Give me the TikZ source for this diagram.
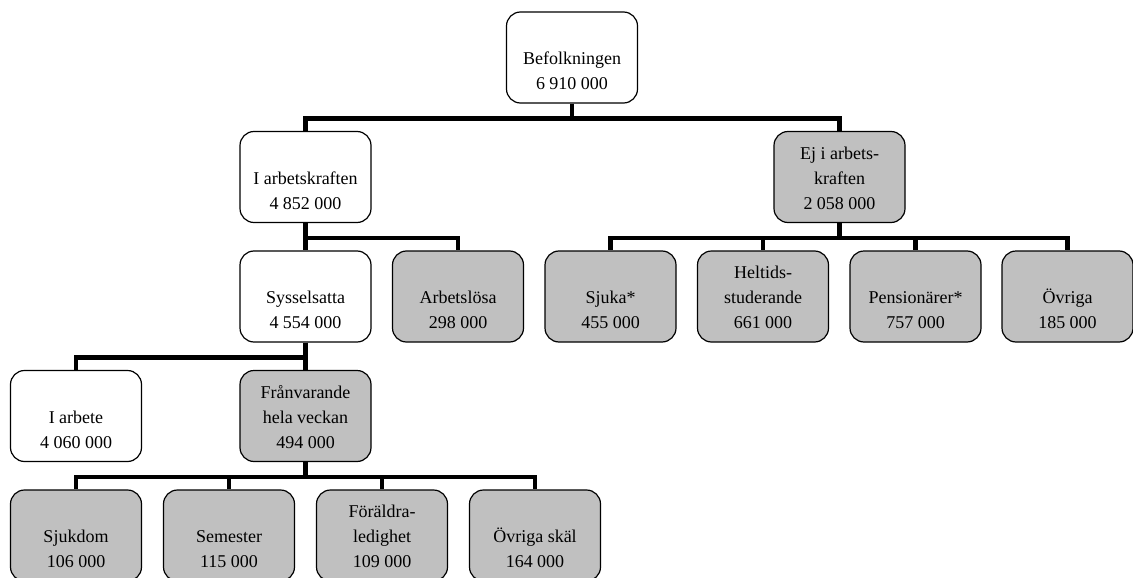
\documentclass[tikz,border=0pt]{standalone}
\usepackage{fontspec}
\setmainfont{Liberation Serif}
\definecolor{ljusgra}{RGB}{192,192,192}
\newcommand{\forsta}{\rule{0pt}{15pt}}

\begin{document}
\begin{tikzpicture}[x=1pt,y=-1pt,
    ruta/.style={draw, line width=1.2pt, rounded corners=14pt, fill=white,
        minimum width=131pt, minimum height=91pt, inner sep=0pt, align=center,
        font=\fontsize{18}{25}\selectfont},
    graruta/.style={ruta, fill=ljusgra},
    linje/.style={line width=4.5pt}]

    \useasboundingbox (0,0) rectangle (1133,578);

    % パラメータ（親の下端から横線までの距離）
    \pgfmathsetmacro{\d}{15}

    % 上の三段
    \node[ruta] (bef) at (572,57.5) {\forsta\\Befolkningen\\6 910 000};
    \node[ruta] (ink) at (305.5,177) {\forsta\\I arbetskraften\\4 852 000};
    \node[graruta] (ej) at (839.5,177) {\forsta Ej i arbets-\\kraften\\2 058 000};
    \node[ruta] (syss) at (305.5,296.5) {\forsta\\Sysselsatta\\4 554 000};
    \node[graruta] (arbl) at (458,296.5) {\forsta\\Arbetslösa\\298 000};
    \node[graruta] (sjuka) at (610.5,296.5) {\forsta\\Sjuka*\\455 000};
    \node[graruta] (helt) at (763,296.5) {\forsta Heltids-\\studerande\\661 000};
    \node[graruta] (pens) at (915.5,296.5) {\forsta\\Pensionärer*\\757 000};
    \node[graruta] (ovr) at (1067.5,296.5) {\forsta\\Övriga\\185 000};

    % 下の二段
    \node[ruta] (iarb) at (76,416) {\forsta\\I arbete\\4 060 000};
    \node[graruta] (fran) at (305.5,416) {\forsta Frånvarande\\hela veckan\\494 000};
    \node[graruta] (sjukd) at (76,535.5) {\forsta\\Sjukdom\\106 000};
    \node[graruta] (sem) at (229,535.5) {\forsta\\Semester\\115 000};
    \node[graruta] (fld) at (382,535.5) {\forsta Föräldra-\\ledighet\\109 000};
    \node[graruta] (ovsk) at (535,535.5) {\forsta\\Övriga skäl\\164 000};

    % 親と子をつなぐ線
    \foreach \p/\c in {bef/ink, bef/ej, ink/syss, ink/arbl,
        ej/sjuka, ej/helt, ej/pens, ej/ovr, syss/iarb, syss/fran,
        fran/sjukd, fran/sem, fran/fld, fran/ovsk} {
        \draw[linje] (\p.south) -- ++(0,\d) -| (\c.north);
    }
    %
\end{tikzpicture}
\end{document}
